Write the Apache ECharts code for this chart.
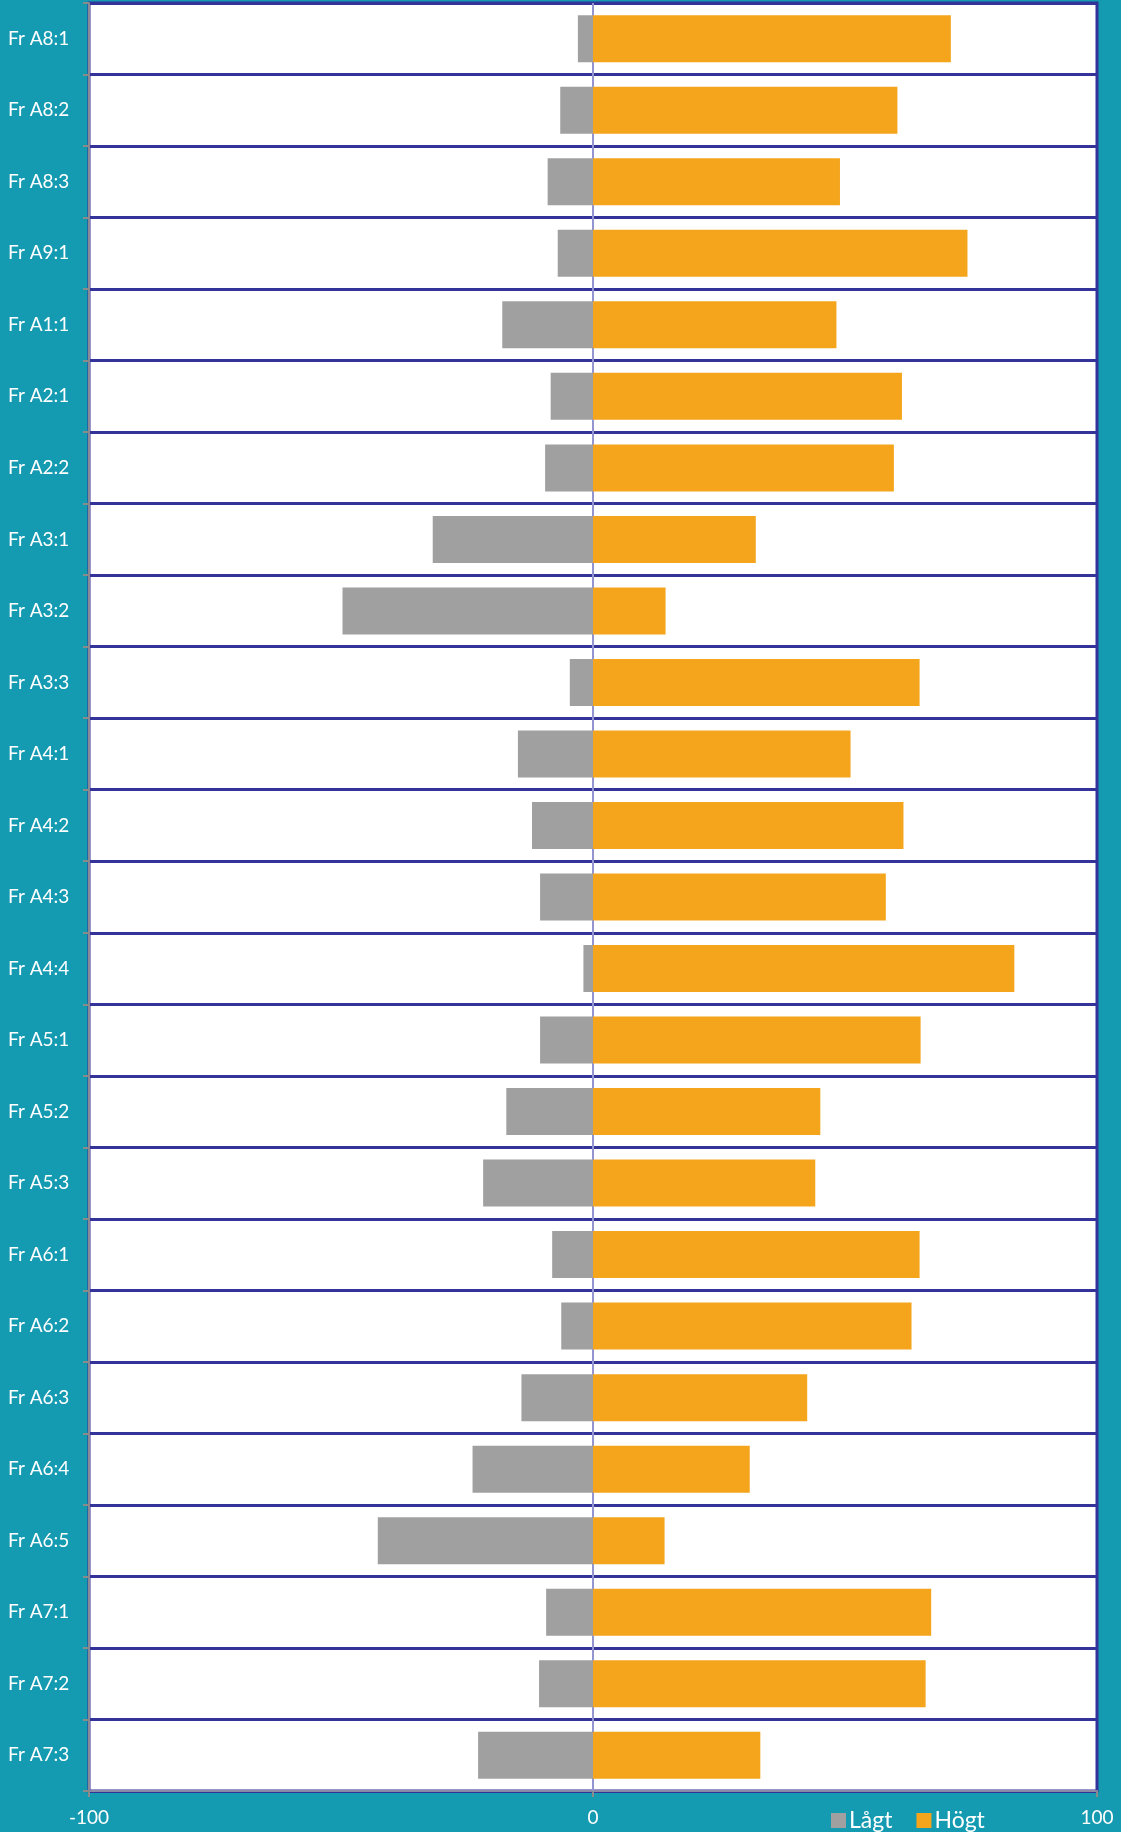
<!DOCTYPE html>
<html>
<head>
<meta charset="utf-8">
<script src="https://cdn.jsdelivr.net/npm/echarts@6/dist/echarts.min.js"></script>
<style>
  html, body { margin: 0; padding: 0; background: #149ab1; }
  #chart { width: 1121px; height: 1832px; }
</style>
</head>
<body>
<div id="chart"></div>
<script>
// frågor, uppifrån och ner
const questions = ['Fr A8:1', 'Fr A8:2', 'Fr A8:3', 'Fr A9:1', 'Fr A1:1', 'Fr A2:1', 'Fr A2:2',
  'Fr A3:1', 'Fr A3:2', 'Fr A3:3', 'Fr A4:1', 'Fr A4:2', 'Fr A4:3', 'Fr A4:4', 'Fr A5:1',
  'Fr A5:2', 'Fr A5:3', 'Fr A6:1', 'Fr A6:2', 'Fr A6:3', 'Fr A6:4', 'Fr A6:5', 'Fr A7:1',
  'Fr A7:2', 'Fr A7:3']
// andel lågt (negativ sida)
const lagt = [-3, -6.5, -9, -7, -18, -8.4, -9.5, -31.8, -49.7, -4.6, -14.9, -12.1, -10.5, -1.9,
  -10.5, -17.2, -21.8, -8.1, -6.3, -14.2, -23.9, -42.7, -9.3, -10.7, -22.8]
// andel högt
const hogt = [71, 60.4, 49, 74.3, 48.3, 61.3, 59.7, 32.3, 14.4, 64.8, 51.1, 61.6, 58.1, 83.6,
  65, 45.1, 44.1, 64.8, 63.2, 42.5, 31.1, 14.2, 67.1, 66, 33.2]

const chart = echarts.init(document.getElementById('chart'))
const font = 'Lato, "Open Sans", sans-serif'

chart.setOption({
  backgroundColor: '#149ab1',
  animation: false,
  textStyle: { fontFamily: font },
  legend: {
    left: 826,
    top: 1804,
    itemWidth: 15,
    itemHeight: 15,
    itemGap: 24,
    icon: 'rect',
    textStyle: { color: '#fff', fontSize: 23, fontFamily: font, padding: [0, 0, 0, -2] },
    data: ['Lågt', 'Högt']
  },
  grid: {
    left: 89,
    right: 24,
    top: 3,
    bottom: 41,
    show: true,
    backgroundColor: '#fff',
    borderColor: '#333399',
    borderWidth: 3
  },
  xAxis: {
    type: 'value',
    min: -100,
    max: 100,
    interval: 100,
    axisLine: { show: true, onZero: false, lineStyle: { color: '#8a8aa6', width: 2 } },
    axisTick: { show: true, length: 6, lineStyle: { color: '#8a8a8a', width: 2 } },
    axisLabel: { color: '#fff', fontSize: 19, margin: 17, fontFamily: font },
    splitLine: { show: false }
  },
  yAxis: {
    type: 'category',
    inverse: true,
    data: questions,
    axisLine: { show: true, onZero: false, lineStyle: { color: '#8a8a96', width: 2 } },
    axisTick: { show: true, length: 6, lineStyle: { color: '#8a8a8a', width: 2 } },
    axisLabel: { color: '#fff', fontSize: 19, align: 'left', margin: 81, fontFamily: font },
    splitLine: { show: true, lineStyle: { color: '#333399', width: 3 } }
  },
  series: [
    {
      name: 'Lågt',
      type: 'bar',
      stack: 'tot',
      barWidth: 47,
      data: lagt,
      itemStyle: { color: '#a0a0a0' }
    },
    {
      name: 'Högt',
      type: 'bar',
      stack: 'tot',
      barWidth: 47,
      data: hogt,
      itemStyle: { color: '#f4a51c' },
      // nollinjen, under staplarna
      markLine: {
        silent: true,
        z: 1,
        symbol: 'none',
        label: { show: false },
        lineStyle: { color: '#9494d0', width: 2, type: 'solid' },
        data: [{ xAxis: 0 }]
      }
    }
  ]
})
</script>
</body>
</html>
